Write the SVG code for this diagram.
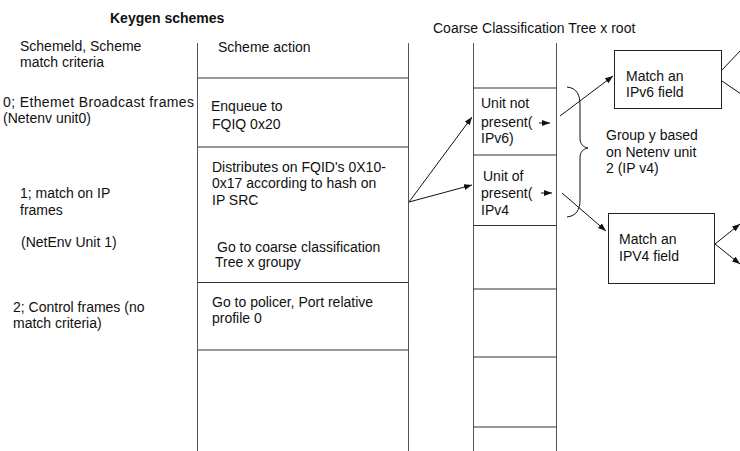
<svg xmlns="http://www.w3.org/2000/svg" width="740" height="451" viewBox="0 0 740 451">
<style>
text{font-family:"Liberation Sans",Arial,sans-serif;font-size:14px;fill:#111}
.b{font-weight:bold;font-size:14px}
.ln{stroke:#555;stroke-width:1;fill:none}
.hl{stroke:#333;stroke-width:1;fill:none}
.box{stroke:#222;stroke-width:1;fill:#fff}
.c{stroke:#111;stroke-width:1;fill:none}
.a{marker-end:url(#ah)}
</style>
<defs>
<marker id="ah" markerUnits="userSpaceOnUse" markerWidth="9" markerHeight="7" refX="8" refY="3" orient="auto">
<path d="M0,0 L8,3 L0,6 z" fill="#111"/>
</marker>
</defs>
<rect width="740" height="451" fill="#fff"/>
<g id="labels-left">
<text class="b" x="110" y="23">Keygen schemes</text>
<text x="20" y="51">Schemeld, Scheme</text>
<text x="20" y="67">match criteria</text>
<text x="3" y="107" textLength="191">0; Ethemet Broadcast frames</text>
<text x="3" y="123">(Netenv unit0)</text>
<text x="20" y="198">1; match on IP</text>
<text x="20" y="215">frames</text>
<text x="21" y="247">(NetEnv Unit 1)</text>
<text x="13" y="312">2; Control frames (no</text>
<text x="13" y="328">match criteria)</text>
</g>
<g id="keygen-table">
<line class="ln" x1="197.5" y1="43" x2="197.5" y2="451"/>
<line class="ln" x1="408.5" y1="43" x2="408.5" y2="451"/>
<line class="hl" x1="197.5" y1="78" x2="408.5" y2="78"/>
<line class="hl" x1="197.5" y1="147" x2="408.5" y2="147"/>
<line class="hl" x1="197.5" y1="282.5" x2="408.5" y2="282.5"/>
<line class="hl" x1="197.5" y1="350" x2="408.5" y2="350"/>
<text x="218" y="52">Scheme action</text>
<text x="211" y="111">Enqueue to</text>
<text x="212" y="129">FQIQ 0x20</text>
<text x="212" y="172">Distributes on FQID's 0X10-</text>
<text x="212" y="188">0x17 according to hash on</text>
<text x="212" y="205">IP SRC</text>
<text x="217" y="252">Go to coarse classification</text>
<text x="215" y="267">Tree x groupy</text>
<text x="212" y="307">Go to policer, Port relative</text>
<text x="212" y="323">profile 0</text>
</g>
<g id="tree">
<text x="433" y="33">Coarse Classification Tree x root</text>
<line class="ln" x1="473.5" y1="43" x2="473.5" y2="451"/>
<line class="ln" x1="556.5" y1="43" x2="556.5" y2="451"/>
<line class="hl" x1="473.5" y1="88" x2="556.5" y2="88"/>
<line class="hl" x1="473.5" y1="155" x2="556.5" y2="155"/>
<line class="hl" x1="473.5" y1="225.5" x2="556.5" y2="225.5"/>
<line class="hl" x1="473.5" y1="289" x2="556.5" y2="289"/>
<line class="hl" x1="473.5" y1="357" x2="556.5" y2="357"/>
<line class="hl" x1="473.5" y1="427" x2="556.5" y2="427"/>
<text x="481" y="108">Unit not</text>
<text x="481" y="127">present(</text>
<text x="481" y="143">IPv6)</text>
<text x="483" y="181">Unit of</text>
<text x="481" y="198">present(</text>
<text x="481" y="215">IPv4</text>
</g>
<g id="match-ipv6">
<rect class="box" x="614.5" y="50.5" width="107" height="58"/>
<text x="626" y="81">Match an</text>
<text x="626" y="97">IPv6 field</text>
</g>
<g id="match-ipv4">
<rect class="box" x="608.5" y="213.5" width="106" height="70"/>
<text x="619" y="244">Match an</text>
<text x="619" y="261">IPV4 field</text>
</g>
<g id="group-label">
<text x="606" y="140">Group y based</text>
<text x="606" y="157">on Netenv unit</text>
<text x="606" y="173">2 (IP v4)</text>
</g>
<g id="connectors">
<line class="c a" x1="409" y1="202" x2="472" y2="117"/>
<line class="c a" x1="409" y1="202" x2="472" y2="185"/>
<line class="c a" x1="539" y1="123" x2="550" y2="123"/>
<line class="c a" x1="541" y1="193" x2="552" y2="193"/>
<line class="c a" x1="560" y1="116" x2="613" y2="76"/>
<line class="c a" x1="562" y1="193" x2="606" y2="231"/>
<path class="c" d="M567,87 C577,88 580,95 580,105 L580,138 C580,144 583,147 588,148 C583,149 580,152 580,158 L580,200 C580,210 576,216 567,217"/>
<line class="c" x1="722" y1="70" x2="741" y2="50"/>
<line class="c" x1="722" y1="81" x2="741" y2="94"/>
<line class="c a" x1="715" y1="244" x2="740" y2="224"/>
<line class="c a" x1="715" y1="244" x2="740" y2="264"/>
</g>
</svg>
